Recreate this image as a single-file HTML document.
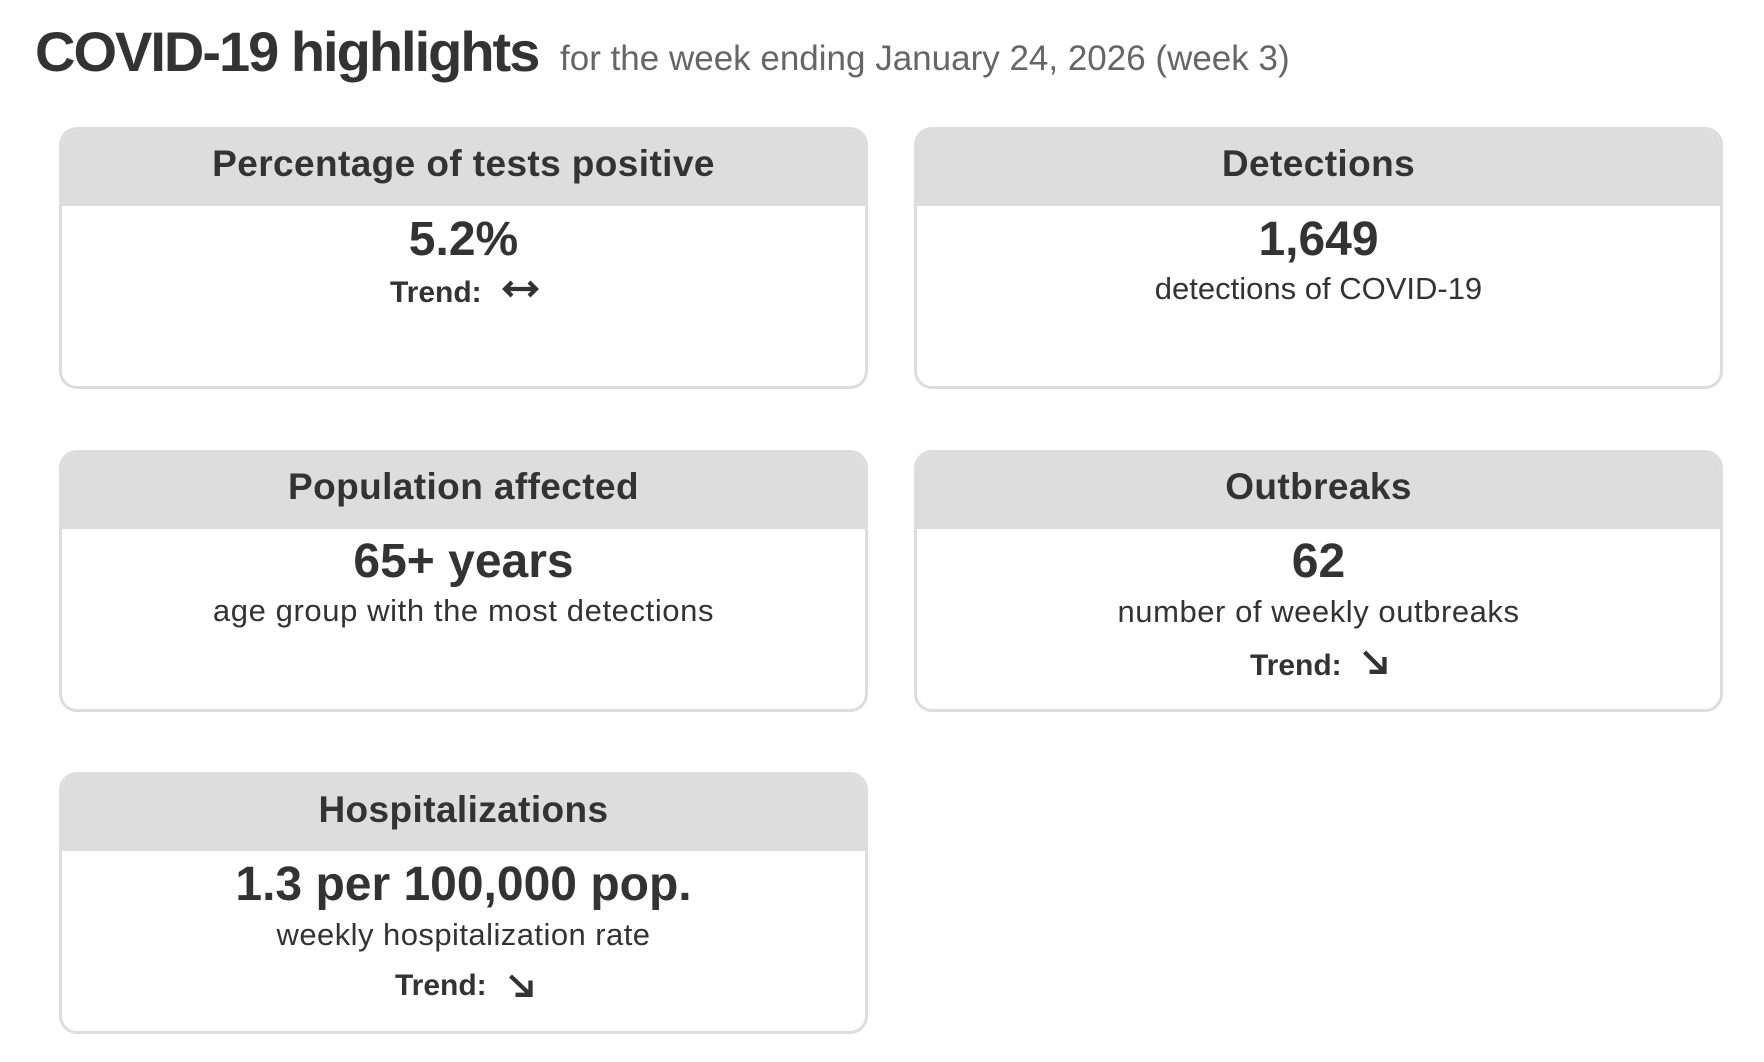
<!DOCTYPE html>
<html>
<head>
<meta charset="utf-8">
<style>
  html, body { margin:0; padding:0; }
  body { width:1764px; height:1062px; background:#fff; position:relative; overflow:hidden; font-family:"Liberation Sans", Arial, sans-serif; color:#333; }
  .abs { position:absolute; white-space:nowrap; }
  .title { left:35px; top:23.6px; font-size:56px; line-height:56px; font-weight:bold; letter-spacing:-2px; color:#333; }
  .sub { left:560px; top:41.4px; font-size:35px; line-height:35px; color:#666; }
  .card { position:absolute; width:809px; height:262px; box-sizing:border-box; border:3px solid #dddddd; border-radius:18px; overflow:hidden; background:#fff; }
  .card .hd { position:absolute; left:0; top:0; right:0; height:76px; background:#dddddd; }
  .t { position:absolute; width:809px; text-align:center; white-space:nowrap; color:#333; }
  .h { font-size:37px; line-height:37px; font-weight:bold; letter-spacing:0.4px; }
  .v { font-size:48px; line-height:48px; font-weight:bold; }
  .s { font-size:31px; line-height:31px; }
  .tr { position:absolute; font-size:30px; line-height:30px; font-weight:bold; white-space:nowrap; color:#333; }
  svg.ar { position:absolute; overflow:visible; }
</style>
</head>
<body>
  <div class="abs title">COVID-19 highlights</div>
  <div class="abs sub">for the week ending January 24, 2026 (week 3)</div>

  <!-- Card 1 -->
  <div class="card" style="left:59px; top:127px;"><div class="hd"></div></div>
  <div class="t h" style="left:59px; top:145.4px;">Percentage of tests positive</div>
  <div class="t v" style="left:59px; top:215.8px;">5.2%</div>
  <div class="tr" style="left:390px; top:277.6px;">Trend:</div>
  <svg class="ar" style="left:502px; top:280px;" width="37" height="18" viewBox="0 0 37 18">
    <line x1="3" y1="9" x2="34" y2="9" stroke="#333" stroke-width="4.2"/>
    <polyline points="10,2 3,9 10,16" fill="none" stroke="#333" stroke-width="4.2" stroke-linejoin="miter"/>
    <polyline points="27,2 34,9 27,16" fill="none" stroke="#333" stroke-width="4.2" stroke-linejoin="miter"/>
  </svg>

  <!-- Card 2 -->
  <div class="card" style="left:914px; top:127px;"><div class="hd"></div></div>
  <div class="t h" style="left:914px; top:145.4px;">Detections</div>
  <div class="t v" style="left:914px; top:215.8px;">1,649</div>
  <div class="t s" style="left:914px; top:272.8px;">detections of COVID-19</div>

  <!-- Card 3 -->
  <div class="card" style="left:59px; top:450px;"><div class="hd"></div></div>
  <div class="t h" style="left:59px; top:468px;">Population affected</div>
  <div class="t v" style="left:59px; top:538.3px;">65+ years</div>
  <div class="t s" style="left:59px; top:595px; letter-spacing:0.6px;">age group with the most detections</div>

  <!-- Card 4 -->
  <div class="card" style="left:914px; top:450px;"><div class="hd"></div></div>
  <div class="t h" style="left:914px; top:468px;">Outbreaks</div>
  <div class="t v" style="left:914px; top:538.3px;">62</div>
  <div class="t s" style="left:914px; top:595.5px; letter-spacing:0.55px;">number of weekly outbreaks</div>
  <div class="tr" style="left:1250px; top:650.6px;">Trend:</div>
  <svg class="ar" style="left:1362px; top:650px;" width="25" height="24" viewBox="0 0 25 24">
    <line x1="2.5" y1="2" x2="21" y2="20.5" stroke="#333" stroke-width="4.3"/>
    <polyline points="22.5,7 22.5,21.8 7.5,21.8" fill="none" stroke="#333" stroke-width="4.3" stroke-linejoin="miter"/>
  </svg>

  <!-- Card 5 -->
  <div class="card" style="left:59px; top:772px;"><div class="hd"></div></div>
  <div class="t h" style="left:59px; top:791px;">Hospitalizations</div>
  <div class="t v" style="left:59px; top:861.3px;">1.3 per 100,000 pop.</div>
  <div class="t s" style="left:59px; top:918.5px; letter-spacing:0.45px;">weekly hospitalization rate</div>
  <div class="tr" style="left:395px; top:971.3px;">Trend:</div>
  <svg class="ar" style="left:508px; top:974px;" width="25" height="23" viewBox="0 0 25 23">
    <line x1="2.5" y1="2" x2="21" y2="19.5" stroke="#333" stroke-width="4.3"/>
    <polyline points="22.5,6.5 22.5,20.8 7.5,20.8" fill="none" stroke="#333" stroke-width="4.3" stroke-linejoin="miter"/>
  </svg>
</body>
</html>
